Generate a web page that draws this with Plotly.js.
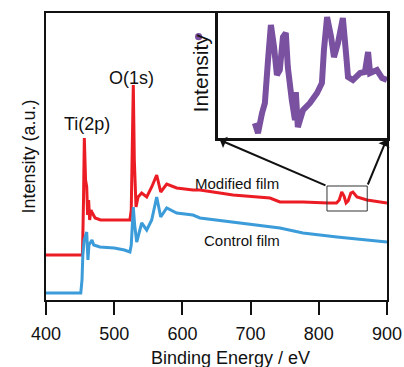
<!DOCTYPE html>
<html>
<head>
<meta charset="utf-8">
<script src="https://cdn.plot.ly/plotly-3.0.1.min.js"></script>
<style>html,body{margin:0;padding:0;background:#fff;}#chart{width:404px;height:367px;}</style>
</head>
<body>
<div id="chart"></div>
<script>
// Modified film (red)
const modifiedEnergy = [400,450,453.5,455,456.2,458,459.7,461,462.5,464,466,468,472,480,500,523,525,526.5,528,529.5,531,532,535,540.3,547.7,555,562.3,568.2,577,591.6,615.5,625.8,674.2,728.4,743,776.8,813.5,826,830,833.6,837,840,843,847,850,856,870.7,900];
const modifiedIntensity = [45,45,45,100,162,120,113,85,100,80,90,87,82,80,80,80,90,150,215,140,100,93,103,107,103,113,125,108,116,112,110,110,105,102,98,98,97,97,100,108,104,97,99,107,108,103,100,97];
// Control film (blue)
const controlEnergy = [400,451,452.8,454,456,459.7,461.5,463,467.4,470,479,500,515,523,525,526.5,528,530,533,540.3,547.7,555,562.3,568.2,577,591.6,615.5,625.8,674.2,743,776.8,826.7,900];
const controlIntensity = [7,7,20,45,60,68,40,55,60,55,53,52,50,48,55,75,93,75,58,77,70,80,103,83,92,87,85,82,78,72,67,63,58];
// Inset (purple)
const insetEnergy = [824.9,826.0,827.4,828.4,829.5,830.5,831.6,832.6,833.6,834.7,835.7,836.4,837.8,838.9,839.2,839.9,841.7,844.1,846.6,848.3,849.0,850.1,851.5,852.5,853.9,855.6,856.7,857.4,859.1,861.6,863.3,864.4,865.1,867.5,869.3,871.0];
const insetIntensity = [15,5,25,35,78,113,91,63,68,101,105,71,38,18,46,11,28,35,45,55,88,121,101,81,95,120,85,61,58,65,66,86,65,68,60,58];
const xTicks = [400,500,600,700,800,900];

const FONT = 'Liberation Sans, Arial, sans-serif';
const traces = [
  {x: modifiedEnergy, y: modifiedIntensity, type:'scatter', mode:'lines', line:{color:'#ec1c24', width:3}, xaxis:'x', yaxis:'y', name:'Modified film'},
  {x: controlEnergy, y: controlIntensity, type:'scatter', mode:'lines', line:{color:'#3b9cd9', width:3}, xaxis:'x', yaxis:'y', name:'Control film'},
  {x: insetEnergy, y: insetIntensity, type:'scatter', mode:'lines', line:{color:'#7a50a0', width:6}, xaxis:'x2', yaxis:'y2', name:'Inset'}
];

const layout = {
  width:404, height:367,
  margin:{l:46, r:17, t:13, b:67},
  paper_bgcolor:'#fff', plot_bgcolor:'#fff',
  showlegend:false,
  font:{family:FONT, color:'#111'},
  xaxis:{domain:[0,1], range:[400,900], tickvals:xTicks, ticktext:xTicks.map(String), ticks:'outside', ticklen:13, tickwidth:2, tickcolor:'#111', ticklabelstandoff:3,
         showline:true, linewidth:2, linecolor:'#111', mirror:true, showgrid:false, zeroline:false, tickfont:{size:18, family:FONT, color:'#111'}},
  yaxis:{domain:[0,1], range:[0,287], showticklabels:false, ticks:'', showline:true, linewidth:2, linecolor:'#111', mirror:true, showgrid:false, zeroline:false,
         title:{text:'Intensity (a.u.)', font:{size:18, family:FONT, color:'#111'}, standoff:4}},
  xaxis2:{domain:[0.504,1], anchor:'y2', range:[812,871], showticklabels:false, ticks:'', showline:true, linewidth:2.5, linecolor:'#111', mirror:true, showgrid:false, zeroline:false},
  yaxis2:{domain:[0.564,1], anchor:'x2', range:[0,125], showticklabels:false, ticks:'', showline:true, linewidth:2.5, linecolor:'#111', mirror:true, showgrid:false, zeroline:false},
  shapes:[
    {type:'rect', xref:'x', yref:'y', x0:812, x1:871, y0:89, y1:114, line:{color:'#333', width:1}},
    {type:'circle', xref:'paper', yref:'paper', x0:0.437, x1:0.458, y0:0.905, y1:0.93, fillcolor:'#7a50a0', line:{width:0}}
  ],
  annotations:[
    {text:'Ti(2p)', xref:'x', yref:'y', x:460, y:176, showarrow:false, font:{size:18, family:FONT, color:'#111'}},
    {text:'O(1s)', xref:'x', yref:'y', x:526, y:222, showarrow:false, font:{size:18, family:FONT, color:'#111'}},
    {text:'Modified film', xref:'x', yref:'y', x:680, y:117, showarrow:false, font:{size:15, family:FONT, color:'#111'}},
    {text:'Control film', xref:'x', yref:'y', x:687, y:60, showarrow:false, font:{size:15, family:FONT, color:'#111'}},
    {text:'Intensity', xref:'paper', yref:'paper', x:0.452, y:0.79, xanchor:'center', yanchor:'middle', textangle:-90, showarrow:false, font:{size:21, family:FONT, color:'#111'}},
    {text:'Binding Energy / eV', xref:'paper', yref:'paper', x:0.5425, y:-0.202, xanchor:'center', yanchor:'middle', showarrow:false, font:{size:18, family:FONT, color:'#111'}},
    {text:'', xref:'x', yref:'y', x:655, y:160, axref:'x', ayref:'y', ax:812, ay:114, showarrow:true, arrowhead:1, arrowsize:1, arrowwidth:2, arrowcolor:'#111'},
    {text:'', xref:'x', yref:'y', x:899, y:160, axref:'x', ayref:'y', ax:871, ay:114, showarrow:true, arrowhead:1, arrowsize:1, arrowwidth:2, arrowcolor:'#111'}
  ]
};
Plotly.newPlot('chart', traces, layout, {displayModeBar:false, staticPlot:true});
</script>
</body>
</html>
